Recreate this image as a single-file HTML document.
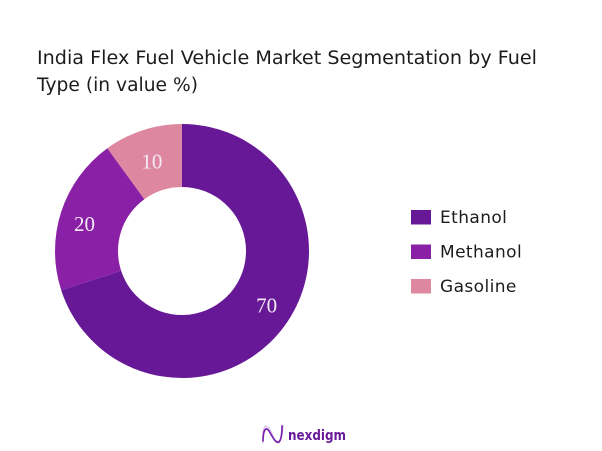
<!DOCTYPE html>
<html>
<head>
<meta charset="utf-8">
<style>
html,body{margin:0;padding:0;background:#fff;}
svg{display:block;}
text{font-family:"DejaVu Sans","Liberation Sans",sans-serif;}
</style>
</head>
<body>
<svg id="chart" width="602" height="451" viewBox="0 0 602 451" xmlns="http://www.w3.org/2000/svg">
  <rect x="0" y="0" width="602" height="451" fill="#ffffff"/>
  <g fill="#1c1c1c" font-size="18.5">
    <text x="37" y="64" textLength="500" lengthAdjust="spacingAndGlyphs">India Flex Fuel Vehicle Market Segmentation by Fuel</text>
    <text x="37" y="91" textLength="161" lengthAdjust="spacingAndGlyphs">Type (in value %)</text>
  </g>
  <g id="slices"></g>
  <g id="labels"></g>
  <g id="legend"></g>
  <g>
    <g fill="none" stroke-linecap="round">
      <path d="M263 443 C262 428 265 423 269 428 C273 434 275 445 279 441 C282 438 283 432 283 425" stroke="#d3b6ea" stroke-width="1"/>
      <path d="M263 441 C263 430 266 426 269 431 C272 436 276 444 279 442 C281 440 282 434 282 426" stroke="#7a22b0" stroke-width="1.7"/>
    </g>
    <text x="288" y="440" font-size="14" font-weight="bold" fill="#6a1b9a" textLength="58" lengthAdjust="spacingAndGlyphs">nexdigm</text>
  </g>
</svg>
<script>
const categories = ["Ethanol", "Methanol", "Gasoline"];
const seriesValues = [70, 20, 10];
const sliceColors = ["#671897", "#8a20a6", "#dd87a0"];

const cx = 182, cy = 251, outerR = 127, innerR = 64;
const NS = "http://www.w3.org/2000/svg";
const total = seriesValues.reduce((a, b) => a + b, 0);
const angleOf = v => v / total * 2 * Math.PI;
const px = (r, a) => cx + r * Math.sin(a);
const py = (r, a) => cy - r * Math.cos(a);

const slices = document.getElementById("slices");
const labels = document.getElementById("labels");
const legend = document.getElementById("legend");

let start = 0;
seriesValues.forEach((v, i) => {
  const end = start + angleOf(v);
  const large = end - start > Math.PI ? 1 : 0;
  const d = [
    "M", px(outerR, start), py(outerR, start),
    "A", outerR, outerR, 0, large, 1, px(outerR, end), py(outerR, end),
    "L", px(innerR, end), py(innerR, end),
    "A", innerR, innerR, 0, large, 0, px(innerR, start), py(innerR, start),
    "Z"
  ].join(" ");
  const path = document.createElementNS(NS, "path");
  path.setAttribute("d", d);
  path.setAttribute("fill", sliceColors[i]);
  
  
  slices.appendChild(path);

  const mid = (start + end) / 2 - 0.05 * Math.min(1, Math.pow(v / 20, 2));
  const labelR = Math.min(101, 87 + v * 0.7);
  const t = document.createElementNS(NS, "text");
  t.setAttribute("x", px(labelR, mid));
  t.setAttribute("y", py(labelR, mid) + 6.5);
  t.setAttribute("text-anchor", "middle");
  t.setAttribute("font-size", "21");
  t.setAttribute("fill", "#f4e9f6");
  t.style.fontFamily = '"Liberation Serif", serif';
  t.textContent = v;
  
  
  labels.appendChild(t);

  const rowY = 210 + i * 34.5;
  const swatch = document.createElementNS(NS, "rect");
  swatch.setAttribute("x", 411);
  swatch.setAttribute("y", rowY);
  swatch.setAttribute("width", 20);
  swatch.setAttribute("height", 14.5);
  swatch.setAttribute("fill", sliceColors[i]);
  
  
  legend.appendChild(swatch);

  const lt = document.createElementNS(NS, "text");
  lt.setAttribute("x", 440);
  lt.setAttribute("y", rowY + 13);
  lt.setAttribute("font-size", "17");
  lt.setAttribute("letter-spacing", "0.4");
  lt.setAttribute("fill", "#1c1c1c");
  lt.textContent = categories[i];
  
  
  legend.appendChild(lt);

  start = end;
});
</script>
</body>
</html>
